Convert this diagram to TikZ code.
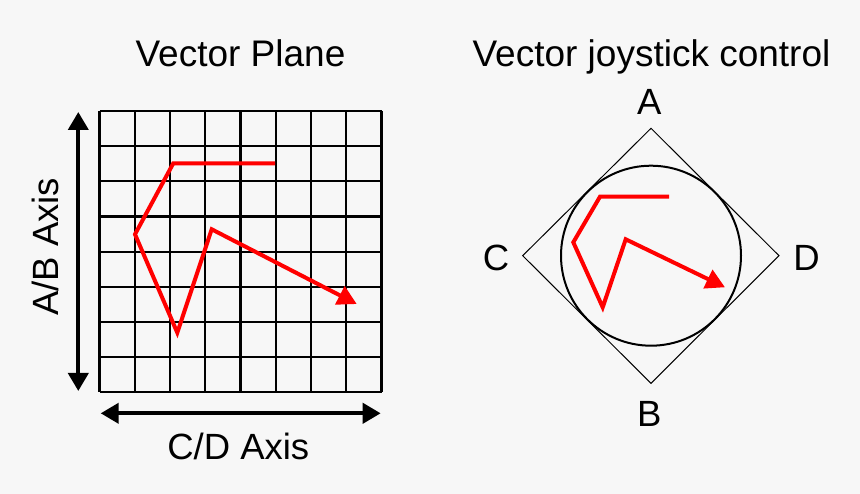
\documentclass[tikz,border=0pt]{standalone}
\usepackage{fontspec}
\setmainfont{Liberation Sans}
\usetikzlibrary{arrows.meta}
\definecolor{bgc}{HTML}{F7F7F7}
\definecolor{redc}{HTML}{FF0000}
\begin{document}
\begin{tikzpicture}[x=1pt,y=-1pt,
  lbl/.style={font=\fontsize{36.5}{42}\selectfont, inner sep=0pt, anchor=base},
  ttl/.style={font=\fontsize{37}{42}\selectfont, inner sep=0pt, anchor=base},
  gridline/.style={line width=2.2pt, black},
  axisarrow/.style={line width=4pt, black, {Triangle[width=20pt,length=18pt]}-{Triangle[width=20pt,length=18pt]}},
  redpath/.style={line width=4pt, redc, -{Triangle[width=20pt,length=19pt]}},
  thin/.style={line width=1pt, black},
]
\fill[bgc] (0,0) rectangle (860,494);
\useasboundingbox (0,0) rectangle (860,494);

% titles
\node[ttl] (t1) at (240.5,66.7) {Vector Plane};
\node[ttl] (t2) at (651.5,66.7) {Vector joystick control};

% grid
\foreach \i in {0,...,8} {
  \draw[gridline] ({99.5+\i*35.25},111) -- ({99.5+\i*35.25},392.3);
  \draw[gridline] (99.5,{111+\i*35.16}) -- (381.5,{111+\i*35.16});
}

% axis arrows
\coordinate (abtop) at (78.3,112);
\coordinate (abbot) at (78.3,391);
\coordinate (cdl) at (100.7,413.3);
\coordinate (cdr) at (380.7,413.3);
\draw[axisarrow] (abbot) -- (abtop);
\draw[axisarrow] (cdl) -- (cdr);
\node[lbl, rotate=90] (ab) at (58.3,246.7) {A/B Axis};
\node[lbl] (cd) at (238.3,460) {C/D Axis};

% red path left
\draw[redpath] (275,163.3) -- (173.3,163.3) -- (135,234.3) -- (177.3,332.7) -- (211.7,229.3) -- (356.7,304);

% joystick
\coordinate (dA) at (651,128.3);
\coordinate (dD) at (779,255.7);
\coordinate (dB) at (651,383.3);
\coordinate (dC) at (522.7,255.7);
\draw[thin] (dA) -- (dD) -- (dB) -- (dC) -- cycle;
\node[draw, circle, line width=2pt, minimum size=180pt, inner sep=0pt] (circ) at (651,255.7) {};

\node[lbl] (la) at (649.3,115) {A};
\node[lbl] (lb) at (649.3,426.7) {B};
\node[lbl] (lc) at (496,270.7) {C};
\node[lbl] (ld) at (806.5,270.7) {D};

\draw[redpath] (669,196.7) -- (600,196.7) -- (573.3,242.3) -- (602.7,307.3) -- (625.7,239.3) -- (725,287.3);
\end{tikzpicture}
\end{document}
